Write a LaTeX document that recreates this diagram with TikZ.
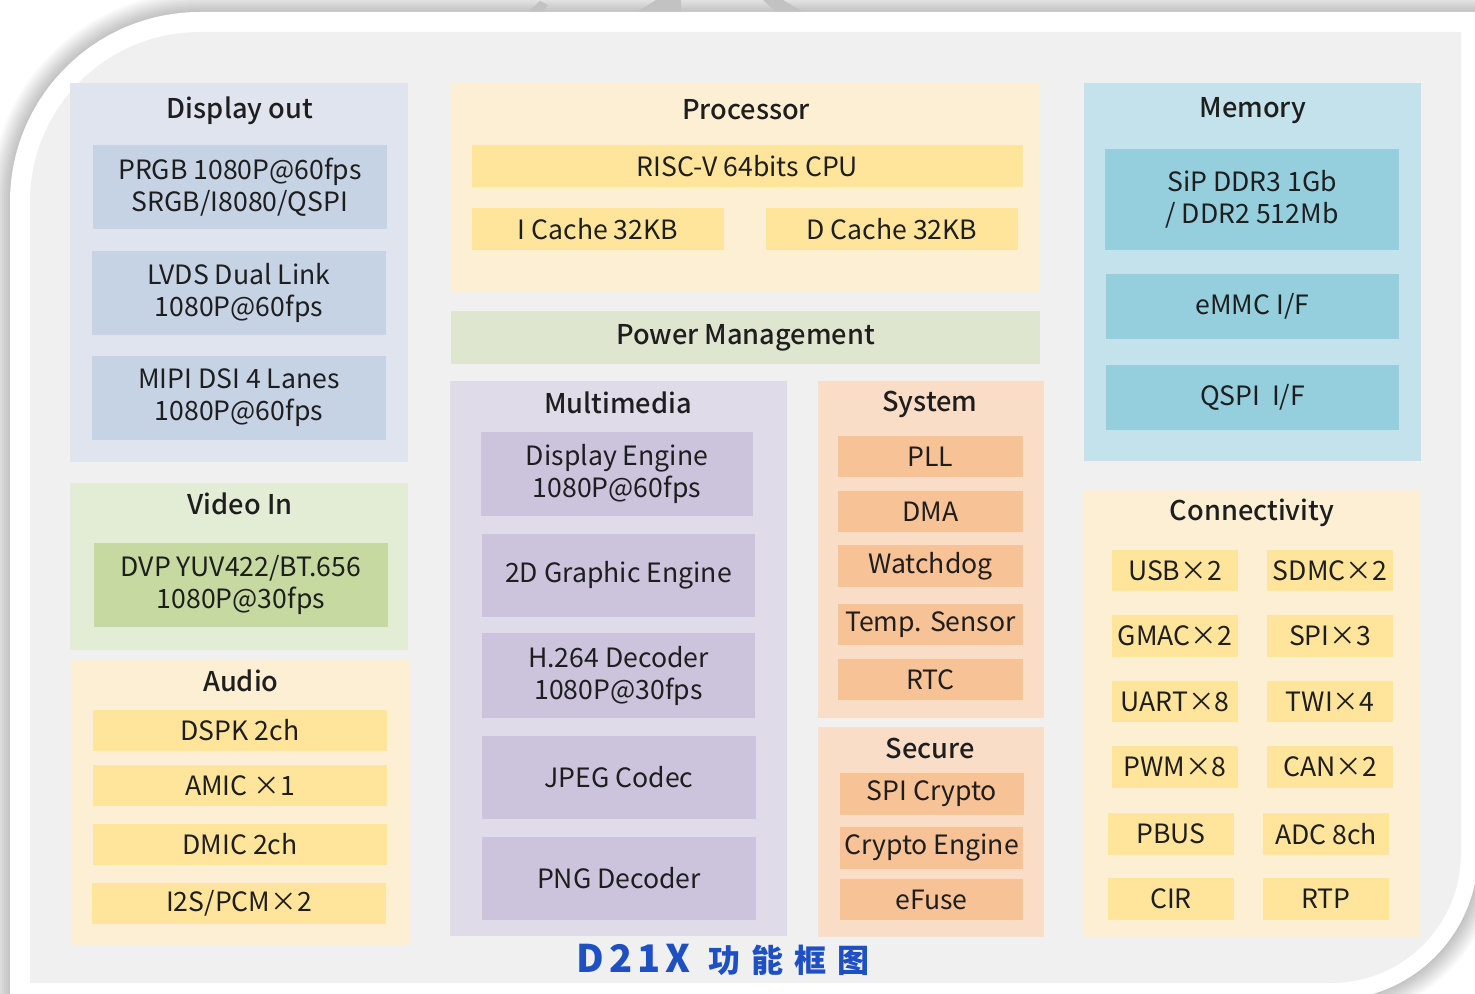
\documentclass[tikz,border=0pt]{standalone}
\usepackage{fontspec}
\setmainfont{Noto Sans CJK SC}
\newfontfamily\medfont{Noto Sans CJK SC Medium}
\definecolor{panel}{HTML}{F0F0F0}
\definecolor{wmark}{HTML}{C2C2C2}
\definecolor{dispG}{HTML}{DFE4EE}
\definecolor{dispS}{HTML}{C6D3E5}
\definecolor{vidG}{HTML}{E3EDD6}
\definecolor{vidS}{HTML}{C6D9A1}
\definecolor{yelG}{HTML}{FCEFD4}
\definecolor{yelS}{HTML}{FFE59B}
\definecolor{pwr}{HTML}{DFE6CF}
\definecolor{mmG}{HTML}{E0DBE8}
\definecolor{mmS}{HTML}{CCC3DD}
\definecolor{sysG}{HTML}{F9DDC7}
\definecolor{sysS}{HTML}{F8C297}
\definecolor{memG}{HTML}{C4E2EB}
\definecolor{memS}{HTML}{95CFDE}
\definecolor{txt}{HTML}{1E1E1E}
\definecolor{ttlblue}{HTML}{1E4FC3}
% #1 name, #2 style, #3 x1, #4 y1, #5 x2, #6 y2, #7 text
\newcommand\mybox[7]{%
  \pgfmathsetmacro\mbw{(#5-#3)*0.5}%
  \pgfmathsetmacro\mbh{(#6-#4)*0.5}%
  \node[#2, minimum width=\mbw pt, minimum height=\mbh pt] (#1) at ({(#3+#5)/2},{(#4+#6)/2}) {#7};}
\begin{document}
\begin{tikzpicture}[x=0.5pt,y=-0.5pt,
  grp/.style={inner sep=0pt, outer sep=0pt, draw=none, fill=#1},
  sub/.style={inner sep=0pt, outer sep=0pt, draw=none, fill=#1, align=center,
    text=txt, font=\fontsize{13.3}{16}\selectfont},
  ttl/.style={inner sep=0pt, text=txt, font=\medfont\fontsize{13.6}{16}\selectfont}]
\useasboundingbox (0,0) rectangle (1475,994);
\fill[white] (0,0) rectangle (1475,994);
% shadow of the card
\def\cardpath{(10,1000) -- (10,202) .. controls (10,97) and (95,12) .. (200,12) -- (1478,12) -- (1478,853) .. controls (1478,934) and (1412,1000) .. (1331,1000) -- cycle}
\foreach \w in {2,4,...,20} {
  \draw[line width=\w pt, draw=black, draw opacity=0.025, line join=round] \cardpath;
}
% faint watermark shapes at the top
\fill[wmark] (528,12) -- (542,12) -- (548,5) -- (540,1) -- cycle;
\fill[wmark] (637,12) -- (681,12) -- (681,0) -- (656,0) -- cycle;
\fill[wmark] (763,0) -- (783,0) -- (803,12) -- (776,12) -- cycle;
% card and panel
\fill[white] \cardpath;
\fill[panel] (30,983) -- (30,202) .. controls (30,108) and (106,32) .. (200,32) -- (1461,32) -- (1461,853) .. controls (1461,925) and (1403,983) .. (1331,983) -- cycle;

% Display out
\mybox{disp}{grp=dispG}{70}{83}{408}{462}{}
\node[ttl] (dispT) at (240,111) {Display out};
\mybox{prgb}{sub=dispS}{93}{145}{387}{229}{PRGB 1080P@60fps\\SRGB/I8080/QSPI}
\mybox{lvds}{sub=dispS}{92}{251}{386}{335}{LVDS Dual Link\\1080P@60fps}
\mybox{mipi}{sub=dispS}{92}{356}{386}{440}{MIPI DSI 4 Lanes\\1080P@60fps}

% Video In
\mybox{vid}{grp=vidG}{70}{483}{408}{650}{}
\node[ttl] (vidT) at (240,504) {Video In};
\mybox{dvp}{sub=vidS}{94}{543}{388}{627}{DVP YUV422/BT.656\\1080P@30fps}

% Audio
\mybox{aud}{grp=yelG}{72}{660}{410}{945}{}
\node[ttl] (audT) at (241,681) {Audio};
\mybox{dspk}{sub=yelS}{93}{710}{387}{751}{DSPK 2ch}
\mybox{amic}{sub=yelS}{93}{765}{387}{806}{AMIC ×1}
\mybox{dmic}{sub=yelS}{93}{824}{387}{865}{DMIC 2ch}
\mybox{i2s}{sub=yelS}{92}{883}{386}{924}{I2S/PCM×2}

% Processor
\mybox{proc}{grp=yelG}{451}{83}{1040}{292}{}
\node[ttl] (procT) at (746,110) {Processor};
\mybox{cpu}{sub=yelS}{472}{145}{1023}{187}{RISC-V 64bits CPU}
\mybox{icache}{sub=yelS}{472}{208}{724}{250}{I Cache 32KB}
\mybox{dcache}{sub=yelS}{766}{208}{1018}{250}{D Cache 32KB}

% Power Management
\mybox{pm}{grp=pwr, text=txt, font=\medfont\fontsize{13.6}{16}\selectfont}{451}{311}{1040}{364}{Power Management}

% Multimedia
\mybox{mm}{grp=mmG}{450}{381}{787}{936}{}
\node[ttl] (mmT) at (618,403) {Multimedia};
\mybox{de}{sub=mmS}{481}{432}{753}{516}{Display Engine\\1080P@60fps}
\mybox{ge}{sub=mmS}{482}{534}{755}{617}{2D Graphic Engine}
\mybox{h264}{sub=mmS}{482}{633}{755}{718}{H.264 Decoder\\1080P@30fps}
\mybox{jpeg}{sub=mmS}{482}{736}{756}{819}{JPEG Codec}
\mybox{png}{sub=mmS}{482}{837}{756}{920}{PNG Decoder}

% System
\mybox{sys}{grp=sysG}{818}{381}{1044}{718}{}
\node[ttl] (sysT) at (930,404) {System};
\mybox{pll}{sub=sysS}{838}{436}{1023}{477}{PLL}
\mybox{dma}{sub=sysS}{838}{491}{1023}{532}{DMA}
\mybox{wdt}{sub=sysS}{838}{545}{1023}{587}{Watchdog}
\mybox{temp}{sub=sysS}{838}{604}{1023}{645}{Temp. Sensor}
\mybox{rtc}{sub=sysS}{838}{659}{1023}{700}{RTC}

% Secure
\mybox{sec}{grp=sysG}{818}{727}{1044}{937}{}
\node[ttl] (secT) at (930,748) {Secure};
\mybox{spic}{sub=sysS}{840}{773}{1024}{815}{SPI Crypto}
\mybox{ce}{sub=sysS}{840}{827}{1023}{869}{Crypto Engine}
\mybox{efuse}{sub=sysS}{840}{879}{1023}{920}{eFuse}

% Memory
\mybox{mem}{grp=memG}{1084}{83}{1421}{461}{}
\node[ttl] (memT) at (1253,111) {Memory};
\mybox{ddr}{sub=memS}{1105}{149}{1399}{250}{SiP DDR3 1Gb\\/ DDR2 512Mb}
\mybox{emmc}{sub=memS}{1106}{274}{1399}{339}{eMMC I/F}
\mybox{qspi}{sub=memS}{1106}{365}{1399}{430}{QSPI\ \ I/F}

% Connectivity
\mybox{conn}{grp=yelG}{1083}{490}{1420}{937}{}
\node[ttl] (connT) at (1252,513) {Connectivity};
\mybox{usb}{sub=yelS}{1112}{550}{1238}{591}{USB×2}
\mybox{sdmc}{sub=yelS}{1267}{550}{1393}{591}{SDMC×2}
\mybox{gmac}{sub=yelS}{1112}{615}{1238}{657}{GMAC×2}
\mybox{spi}{sub=yelS}{1267}{615}{1393}{657}{SPI×3}
\mybox{uart}{sub=yelS}{1112}{681}{1238}{722}{UART×8}
\mybox{twi}{sub=yelS}{1267}{681}{1393}{722}{TWI×4}
\mybox{pwm}{sub=yelS}{1112}{746}{1238}{788}{PWM×8}
\mybox{can}{sub=yelS}{1267}{746}{1393}{788}{CAN×2}
\mybox{pbus}{sub=yelS}{1108}{813}{1234}{855}{PBUS}
\mybox{adc}{sub=yelS}{1263}{813}{1389}{855}{ADC 8ch}
\mybox{cir}{sub=yelS}{1108}{878}{1234}{920}{CIR}
\mybox{rtp}{sub=yelS}{1263}{878}{1389}{920}{RTP}

% Title
\node[inner sep=0pt, text=ttlblue, font=\bfseries] (title) at (723,960)
  {{\fontsize{19}{20}\selectfont D\hspace{2.5pt}2\hspace{2.5pt}1\hspace{2.5pt}X}\hspace{9pt}{\fontsize{16}{20}\selectfont 功\hspace{5.5pt}能\hspace{5.5pt}框\hspace{5.5pt}图}};
\end{tikzpicture}
\end{document}
